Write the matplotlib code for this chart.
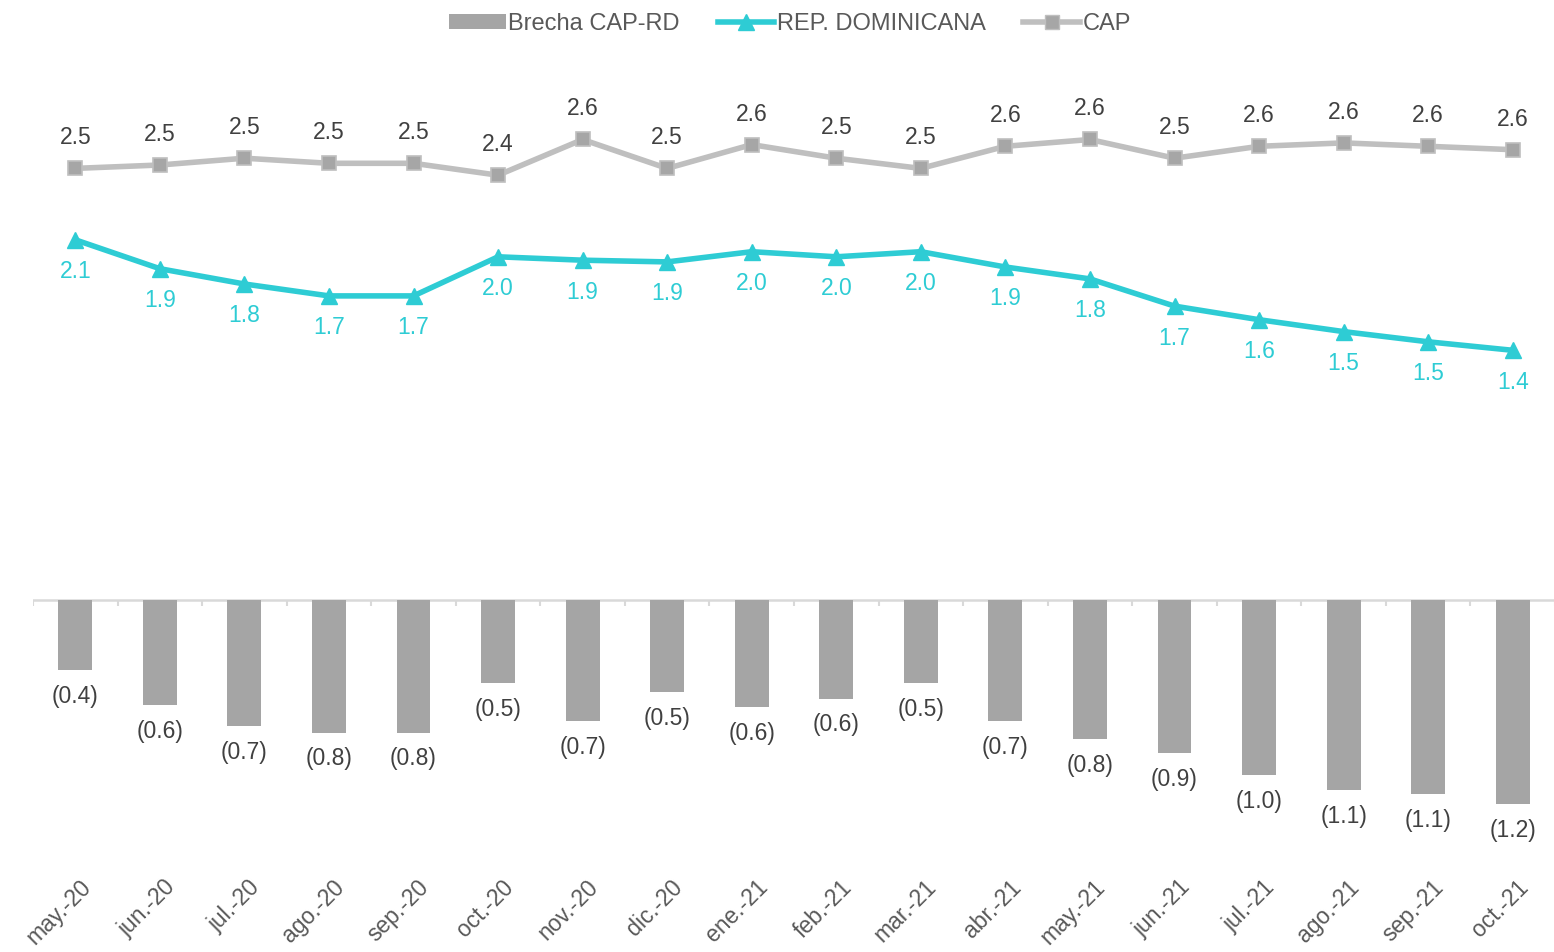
import numpy as np
import matplotlib as mpl
mpl.use('Agg')
import matplotlib.pyplot as plt
import matplotlib.transforms as mtransforms
from matplotlib.lines import Line2D
from matplotlib.patches import Patch

plt.rcParams['font.family'] = ['Liberation Sans', 'DejaVu Sans']

# Data
months = ['may.-20', 'jun.-20', 'jul.-20', 'ago.-20', 'sep.-20', 'oct.-20',
          'nov.-20', 'dic.-20', 'ene.-21', 'feb.-21', 'mar.-21', 'abr.-21',
          'may.-21', 'jun.-21', 'jul.-21', 'ago.-21', 'sep.-21', 'oct.-21']
rd = [2.06, 1.89, 1.80, 1.73, 1.73, 1.96, 1.94, 1.93, 1.99, 1.96, 1.99, 1.90,
      1.83, 1.67, 1.59, 1.52, 1.46, 1.41]
cap = [2.48, 2.50, 2.54, 2.51, 2.51, 2.44, 2.65, 2.48, 2.62, 2.54, 2.48, 2.61,
       2.65, 2.54, 2.61, 2.63, 2.61, 2.59]
brecha = [-0.41, -0.62, -0.74, -0.78, -0.78, -0.49, -0.71, -0.54, -0.63, -0.58,
          -0.49, -0.71, -0.82, -0.90, -1.03, -1.12, -1.14, -1.20]

bar_color = '#A5A5A5'
rd_color = '#2ECCD4'
cap_line = '#BFBFBF'
cap_mark = '#A6A6A6'
text_dark = '#404040'
text_axis = '#595959'
fs = 16.5

x = np.arange(len(months))

fig = plt.figure(figsize=(15.54, 9.52), dpi=100)
ax = fig.add_axes([33 / 1554, 82 / 952, 1522 / 1554, 820 / 952])
ax2 = ax.twinx()

# bars
ax.bar(x, brecha, width=0.4, color=bar_color, zorder=2)
for xi, v in zip(x, brecha):
    ax.annotate('(%.1f)' % abs(v), (xi, v), xytext=(0, -19), textcoords='offset points',
                ha='center', va='center', fontsize=fs, color=text_dark)

# zero line with category ticks
ax.axhline(0, color='#D9D9D9', lw=1.8, zorder=1)
ax.vlines(np.arange(len(months) + 1) - 0.5, -0.035, 0, color='#D9D9D9', lw=1.5, zorder=1)

# lines
ax2.plot(x, cap, color=cap_line, lw=4, marker='s', markersize=10.5,
         markerfacecolor=cap_mark, markeredgecolor=cap_line, markeredgewidth=1.2, zorder=3)
ax2.plot(x, rd, color=rd_color, lw=4, marker='^', markersize=11.5,
         markerfacecolor=rd_color, markeredgecolor=rd_color, zorder=4)
for xi, v in zip(x, cap):
    ax2.annotate('%.1f' % v, (xi, v), xytext=(0, 22), textcoords='offset points',
                 ha='center', va='center', fontsize=fs, color=text_dark)
for xi, v in zip(x, rd):
    ax2.annotate('%.1f' % v, (xi, v), xytext=(0, -23), textcoords='offset points',
                 ha='center', va='center', fontsize=fs, color=rd_color)

ax.set_xlim(-0.5, len(months) - 0.5)
ax.set_ylim(-270 / 170, 550 / 170)
ax2.set_ylim(-280 / 170, 540 / 170)

for a in (ax, ax2):
    for s in a.spines.values():
        s.set_visible(False)
    a.set_yticks([])

ax.set_xticks(x)
ax.set_xticklabels(months, rotation=45, ha='right', rotation_mode='anchor',
                   fontsize=fs, color=text_axis)
ax.tick_params(axis='x', length=0, pad=4)
offset = mtransforms.ScaledTranslation(4 / 100, 0, fig.dpi_scale_trans)
for lab in ax.get_xticklabels():
    lab.set_transform(lab.get_transform() + offset)

handles = [Patch(facecolor=bar_color, edgecolor='none'),
           Line2D([], [], color=rd_color, lw=4, marker='^', markersize=11.5),
           Line2D([], [], color=cap_line, lw=4, marker='s', markersize=10.5,
                  markerfacecolor=cap_mark, markeredgecolor=cap_line)]
fig.legend(handles, ['Brecha CAP-RD', 'REP. DOMINICANA', 'CAP'], loc='center',
           bbox_to_anchor=(790 / 1554, 1 - 24 / 952), ncol=3, frameon=False,
           fontsize=17, labelcolor=text_axis, handlelength=2.4, handletextpad=0.1,
           columnspacing=1.6, handleheight=0.6)

fig.savefig('out.png', dpi=100)
